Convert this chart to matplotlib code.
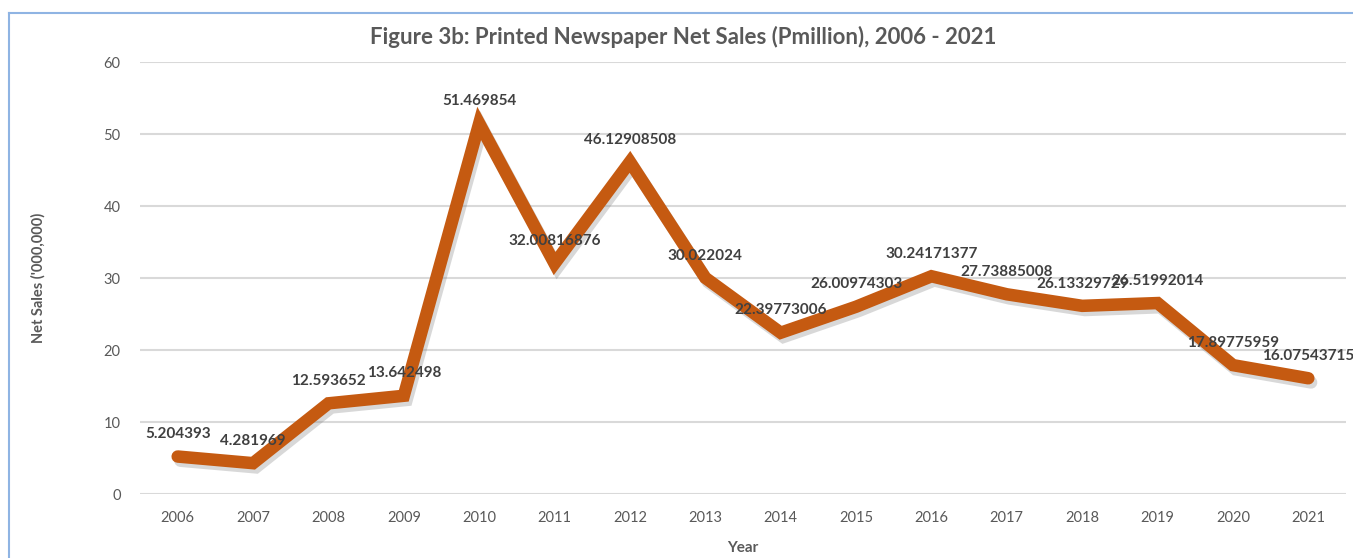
import matplotlib.pyplot as plt
import matplotlib.patheffects as pe
from matplotlib.lines import Line2D

# Printed newspaper net sales, Pmillion
years = ["2006", "2007", "2008", "2009", "2010", "2011", "2012", "2013",
         "2014", "2015", "2016", "2017", "2018", "2019", "2020", "2021"]
net_sales = [5.204393, 4.281969, 12.593652, 13.642498, 51.469854, 32.00816876,
             46.12908508, 30.022024, 22.39773006, 26.00974303, 30.24171377,
             27.73885008, 26.13329729, 26.51992014, 17.89775959, 16.07543715]
y_ticks = [0, 10, 20, 30, 40, 50, 60]

plt.rcParams['font.family'] = ['Lato', 'DejaVu Sans']

fig = plt.figure(figsize=(13.53, 5.58), dpi=100)
ax = fig.add_axes([140 / 1353, 1 - 494 / 558, 1206 / 1353, 432 / 558])

x = list(range(len(years)))
ax.plot(x, net_sales, color="#C55A11", linewidth=9, solid_capstyle="round",
        solid_joinstyle="miter", zorder=3,
        path_effects=[pe.SimpleLineShadow(offset=(2, -3), shadow_color="#7f7f7f", alpha=0.3),
                      pe.Normal()])

# value labels above each point
for xi, v in zip(x, net_sales):
    ax.annotate(str(v), (xi, v), xytext=(0, 11), textcoords="offset points",
                ha="center", va="bottom", fontsize=11, fontweight="bold",
                color="#404040", zorder=4)

ax.set_xlim(-0.5, len(years) - 0.5)
ax.set_ylim(0, 60)
ax.set_xticks(x)
ax.set_xticklabels(years)
ax.set_yticks(y_ticks)
ax.tick_params(length=0, labelsize=10.5, labelcolor="#595959", pad=12)
ax.tick_params(axis="y", pad=14)
ax.grid(axis="y", color="#D9D9D9", linewidth=1.5)
ax.set_axisbelow(True)
for s in ax.spines.values():
    s.set_visible(False)

ax.set_xlabel("Year", fontsize=11, fontweight="bold", color="#595959", labelpad=12)
ax.set_ylabel("Net Sales ('000,000)", fontsize=10.5, fontweight="bold", color="#595959", labelpad=42)

fig.text(0.505, 1 - 37 / 558, "Figure 3b: Printed Newspaper Net Sales (Pmillion), 2006 - 2021",
         ha="center", va="center", fontsize=16, fontweight="bold", color="#595959")

# chart border (top and left edges)
fig.add_artist(Line2D([9 / 1353, 9 / 1353], [0, 1 - 13 / 558], transform=fig.transFigure,
                      color="#8FB4E3", linewidth=1.5))
fig.add_artist(Line2D([9 / 1353, 1], [1 - 13 / 558, 1 - 13 / 558], transform=fig.transFigure,
                      color="#8FB4E3", linewidth=1.5))

fig.savefig("out.png", dpi=100)
